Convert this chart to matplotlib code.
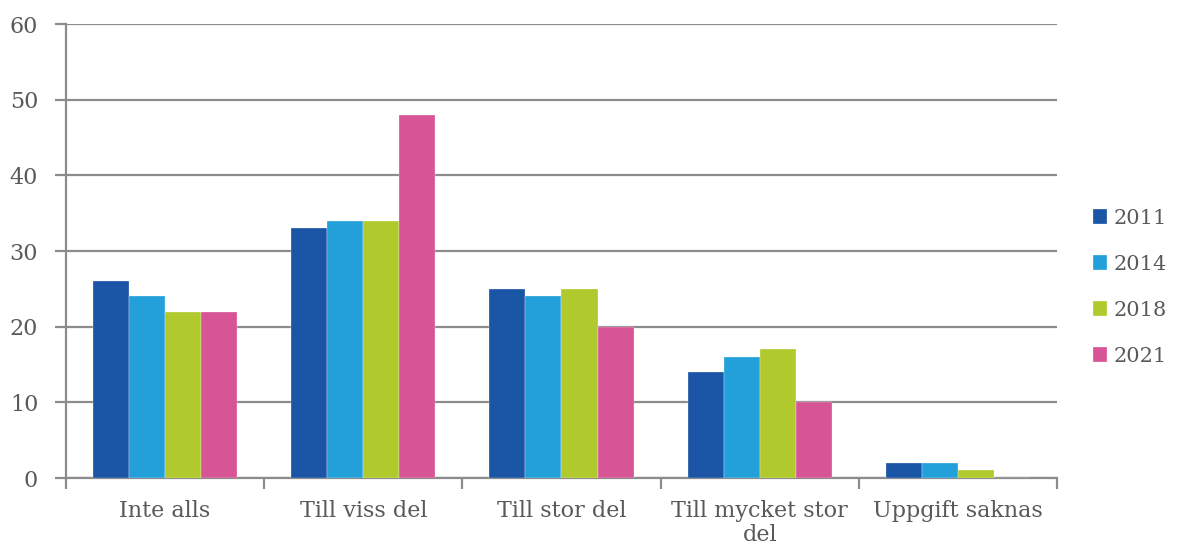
import numpy as np
import matplotlib.pyplot as plt

categories = ["Inte alls", "Till viss del", "Till stor del", "Till mycket stor\ndel", "Uppgift saknas"]
years = ["2011", "2014", "2018", "2021"]
values_2011 = [26, 33, 25, 14, 2]
values_2014 = [24, 34, 24, 16, 2]
values_2018 = [22, 34, 25, 17, 1]
values_2021 = [22, 48, 20, 10, 0]
colors = ["#1B55A5", "#23A0DA", "#B0CA2E", "#D85595"]

grey = "#8C8C8C"
text_col = "#595959"
plt.rcParams['font.family'] = ['DejaVu Serif']

fig = plt.figure(figsize=(11.79, 5.48), dpi=100)
ax = fig.add_axes([0.056, 0.1277, 0.8405, 0.8283])

series = [values_2011, values_2014, values_2018, values_2021]
x = np.arange(len(categories))
w = 0.182
for i, (vals, c, yr) in enumerate(zip(series, colors, years)):
    ax.bar(x + (i - 1.5) * w, vals, width=w, color=c, label=yr,
           edgecolor="white", linewidth=0.2, zorder=3)

ax.set_xlim(-0.5, len(categories) - 0.5)
ax.set_ylim(0, 60)
ax.set_yticks(range(0, 61, 10))
ax.yaxis.grid(True, color=grey, linewidth=1.6, zorder=0)
ax.set_axisbelow(True)

ax.set_xticks(x)
ax.set_xticklabels(categories, fontsize=16, color=text_col, linespacing=1.1)
ax.tick_params(axis="x", length=0, pad=16)
ax.set_xticks(np.arange(-0.5, len(categories)), minor=True)
ax.tick_params(axis="x", which="minor", length=8, width=1.6, color=grey)
ax.tick_params(axis="y", length=8, width=1.6, color=grey, labelsize=16,
               labelcolor=text_col, pad=12)

for s in ["top", "right"]:
    ax.spines[s].set_visible(False)
for s in ["left", "bottom"]:
    ax.spines[s].set_color(grey)
    ax.spines[s].set_linewidth(1.6)

leg = ax.legend(loc="center left", bbox_to_anchor=(1.036, 0.42), frameon=False,
                borderaxespad=0, borderpad=0, fontsize=15, handlelength=0.7,
                handleheight=0.7, handletextpad=0.3, labelspacing=1.3,
                labelcolor=text_col)

fig.savefig("out.png", dpi=100)
